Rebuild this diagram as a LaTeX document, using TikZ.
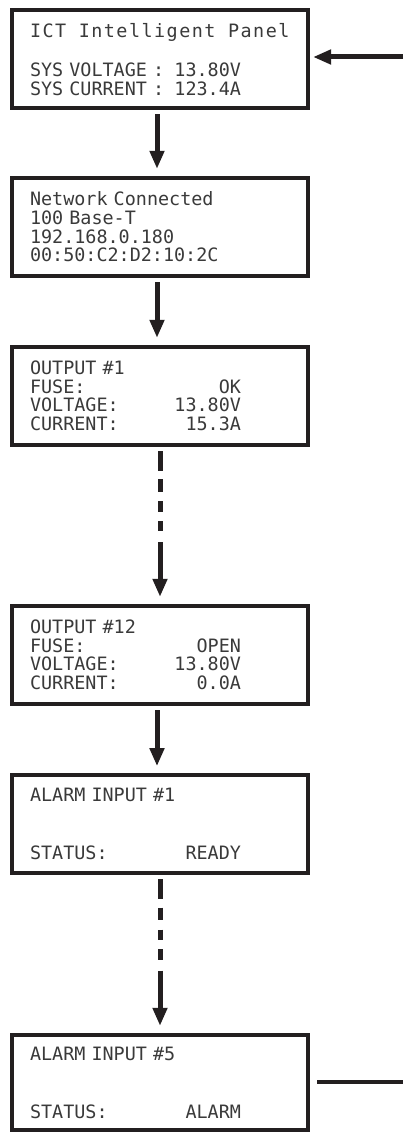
\documentclass[tikz,border=0pt]{standalone}
\usepackage{fontspec}
\newfontfamily\lcdfont{DejaVu Sans Mono}
\newfontfamily\lcdtitlefont[LetterSpace=8]{DejaVu Sans Mono}
\usepackage{tikz}
\usetikzlibrary{arrows.meta,positioning}
\definecolor{lcdtext}{HTML}{3A3A3A}
\definecolor{lcdframe}{HTML}{231F20}
\DeclareRobustCommand{\lcdtitlespaces}{\spaceskip=8.96pt\relax\xspaceskip=8.96pt\relax}
\newcommand{\lcdrow}[2]{\makebox[5.275cm][l]{#1\hfill#2}}
\newcommand{\lcdtitle}[1]{{\lcdtitlefont\lcdtitlespaces #1}}
\tikzset{
lcd_box/.style={rectangle, draw=lcdframe, line width=0.1125cm, fill=white, minimum width=7.4cm, minimum height=2.45cm, inner xsep=0.45cm, inner ysep=0pt, text width=6.5cm, align=left, text=lcdtext, font=\lcdfont\fontsize{13.1}{13.3}\selectfont},
flow_arrow/.style={draw=lcdframe, line width=0.125cm, -{Triangle[length=0.45cm, width=0.35cm]}, shorten <=0.1cm, shorten >=0.17cm},
dash_flow/.style={flow_arrow, dash pattern=on 14pt off 6pt on 9pt off 6.6pt on 7.5pt off 6.6pt on 7.3pt off 7.8pt on 100pt off 1pt},
loop_line/.style={draw=lcdframe, line width=0.1cm}
}

\begin{document}
\begin{tikzpicture}
    \useasboundingbox (0,0) rectangle (10.075,-28.3);
    \node[lcd_box] (panel_1) at (4,-1.48) {\lcdtitle{ICT Intelligent Panel}\\ \strut\\ \lcdrow{SYS VOLTAGE :}{13.80V}\\ \lcdrow{SYS CURRENT :}{123.4A}};
    \node[lcd_box] (network_2) [below=1.63 of panel_1] {Network Connected\\ 100 Base-T\\ 192.168.0.180\\ 00:50:C2:D2:10:2C};
    \node[lcd_box] (output_1) [below=1.6625 of network_2] {OUTPUT \#1\\ \lcdrow{FUSE:}{OK}\\ \lcdrow{VOLTAGE:}{13.80V}\\ \lcdrow{CURRENT:}{15.3A}};
    \node[lcd_box] (output_12) [below=3.9125 of output_1] {OUTPUT \#12\\ \lcdrow{FUSE:}{OPEN}\\ \lcdrow{VOLTAGE:}{13.80V}\\ \lcdrow{CURRENT:}{0.0A}};
    \node[lcd_box] (alarm_1) [below=1.67 of output_12] {ALARM INPUT \#1\\ \strut\\ \strut\\ \lcdrow{STATUS:}{READY}};
    \node[lcd_box, minimum height=2.3875cm] (alarm_5) [below=3.93 of alarm_1] {ALARM INPUT \#5\\ \strut\\ \strut\\ \lcdrow{STATUS:}{ALARM}};
    % loop in and out
    \coordinate (loop_in) at (10.075,-1.425);
    \coordinate (loop_out) at (10.075,-27.05);
    \draw[flow_arrow, shorten <=0pt, shorten >=0.07cm] (loop_in) -- (loop_in -| panel_1.east);
    \draw[loop_line, shorten <=0.17cm] (loop_out -| alarm_5.east) -- (loop_out);
    % menu steps
    \draw[flow_arrow] ([xshift=-0.075cm]panel_1.south) -- ([xshift=-0.075cm]network_2.north);
    \draw[flow_arrow] ([xshift=-0.075cm]network_2.south) -- ([xshift=-0.075cm]output_1.north);
    \draw[dash_flow] (output_1.south) -- (output_12.north);
    \draw[flow_arrow] ([xshift=-0.075cm]output_12.south) -- ([xshift=-0.075cm]alarm_1.north);
    \draw[dash_flow] (alarm_1.south) -- (alarm_5.north);
\end{tikzpicture}
\end{document}
